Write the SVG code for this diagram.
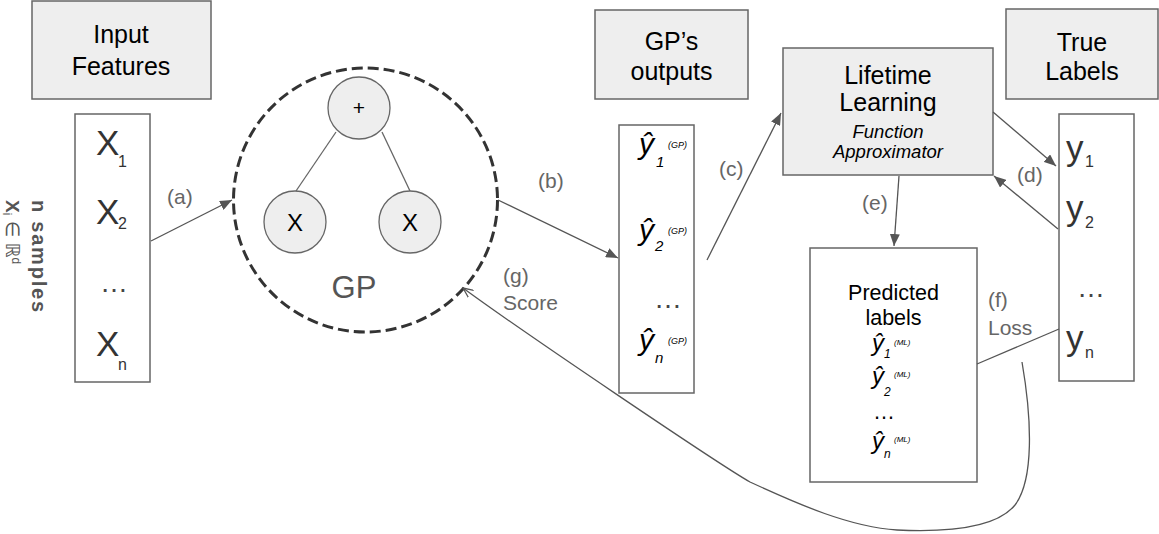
<svg xmlns="http://www.w3.org/2000/svg" width="1159" height="534" viewBox="0 0 1159 534">
<defs>
<marker id="tri" markerUnits="userSpaceOnUse" markerWidth="13" markerHeight="10" refX="12" refY="5" orient="auto">
<path d="M0,0 L12,5 L0,10 z" fill="#555"/>
</marker>
<marker id="open" markerUnits="userSpaceOnUse" markerWidth="12" markerHeight="10" refX="10" refY="5" orient="auto">
<path d="M0,0.5 L10,5 L0,9.5" fill="none" stroke="#555" stroke-width="1.3"/>
</marker>
</defs>
<style>
text{font-family:"Liberation Sans","DejaVu Sans",Arial,sans-serif}
.hdr{fill:#eeeeee;stroke:#666;stroke-width:1.5}
.col{fill:#fff;stroke:#666;stroke-width:1.5}
.ht{font-size:25px;fill:#000;text-anchor:middle}
.big{font-size:35px;fill:#333}
.sub{font-size:16px;fill:#333}
.dots{font-size:28px;fill:#444}
.lbl{font-size:21px;fill:#666}
.conn{stroke:#555;stroke-width:1.3;fill:none}
.tree{stroke:#666;stroke-width:1.3}
.node{fill:#eeeeee;stroke:#666;stroke-width:1.3}
.yh{font-style:italic;fill:#000}
</style>
<rect width="1159" height="534" fill="#fff"/>

<g id="input-features">
<rect class="hdr" x="32" y="1" width="179" height="98"/>
<text class="ht" x="121" y="43">Input</text>
<text class="ht" x="121" y="75">Features</text>
</g>

<g id="x-column">
<rect class="col" x="75" y="114" width="75" height="268"/>
<text class="big" x="96" y="155">X</text><text class="sub" x="118" y="167">1</text>
<text class="big" x="96" y="224">X</text><text class="sub" x="118" y="229">2</text>
<text class="dots" x="100" y="292">…</text>
<text class="big" x="96" y="356">X</text><text class="sub" x="118" y="370">n</text>
</g>

<g id="samples-note">
<text transform="translate(32,200) rotate(90)" font-size="20" font-weight="bold" fill="#555" textLength="112" lengthAdjust="spacing">n samples</text>
<text transform="translate(6,200) rotate(90)" font-size="19" fill="#555"><tspan font-weight="bold">X</tspan><tspan font-size="12" dy="3">i</tspan><tspan dy="-3"> ∈ ℝ</tspan><tspan font-size="12" dy="-6">d</tspan></text>
</g>

<g id="gp">
<circle cx="365.5" cy="200" r="132" fill="none" stroke="#333" stroke-width="3" stroke-dasharray="11,5"/>
<line class="tree" x1="336" y1="132" x2="296" y2="191"/>
<line class="tree" x1="382" y1="132" x2="410" y2="191"/>
<circle class="node" cx="359" cy="108" r="31"/>
<circle class="node" cx="295" cy="222" r="31"/>
<circle class="node" cx="410" cy="222" r="31"/>
<text x="359" y="115" font-size="21" text-anchor="middle" fill="#000">+</text>
<text x="295" y="231" font-size="24" text-anchor="middle" fill="#000">X</text>
<text x="410" y="231" font-size="24" text-anchor="middle" fill="#000">X</text>
<text x="354" y="298" font-size="31" text-anchor="middle" fill="#555">GP</text>
</g>

<g id="gp-outputs-header">
<rect class="hdr" x="595" y="10" width="153" height="89"/>
<text class="ht" x="671.5" y="50">GP’s</text>
<text class="ht" x="671.5" y="80">outputs</text>
</g>

<g id="gp-outputs">
<rect class="col" x="619" y="125" width="75" height="268"/>
<text class="yh" x="639" y="154" font-size="30">ŷ</text><text class="yh" x="656" y="167" font-size="15">1</text><text class="yh" x="668" y="148" font-size="9">(GP)</text>
<text class="yh" x="639" y="240" font-size="30">ŷ</text><text class="yh" x="655" y="251" font-size="15">2</text><text class="yh" x="668" y="234" font-size="9">(GP)</text>
<text class="dots" x="654" y="308">…</text>
<text class="yh" x="639" y="350" font-size="30">ŷ</text><text class="yh" x="655" y="363" font-size="15">n</text><text class="yh" x="668" y="344" font-size="9">(GP)</text>
</g>

<g id="lifetime-learning">
<rect class="hdr" x="783" y="48" width="210" height="127"/>
<text class="ht" x="888" y="84">Lifetime</text>
<text class="ht" x="888" y="111">Learning</text>
<text x="888" y="138" font-size="18.5" font-style="italic" text-anchor="middle" fill="#000">Function</text>
<text x="888" y="158" font-size="18.5" font-style="italic" text-anchor="middle" fill="#000">Approximator</text>
</g>

<g id="true-labels-header">
<rect class="hdr" x="1006" y="9" width="152" height="90"/>
<text class="ht" x="1082" y="51">True</text>
<text class="ht" x="1082" y="80">Labels</text>
</g>

<g id="y-column">
<rect class="col" x="1059" y="114" width="75" height="267"/>
<text class="big" x="1066" y="160">y</text><text class="sub" x="1085" y="167">1</text>
<text class="big" x="1066" y="220">y</text><text class="sub" x="1085" y="228">2</text>
<text class="dots" x="1077" y="297">…</text>
<text class="big" x="1066" y="350">y</text><text class="sub" x="1085" y="358">n</text>
</g>

<g id="predicted-labels">
<rect class="col" x="810" y="248" width="167" height="234"/>
<text x="893.5" y="300" font-size="21.5" text-anchor="middle" fill="#000">Predicted</text>
<text x="893.5" y="325" font-size="21.5" text-anchor="middle" fill="#000">labels</text>
<text class="yh" x="872" y="351" font-size="24">ŷ</text><text class="yh" x="884" y="358" font-size="12">1</text><text class="yh" x="894" y="345" font-size="8">(ML)</text>
<text class="yh" x="872" y="384" font-size="24">ŷ</text><text class="yh" x="884" y="396" font-size="12">2</text><text class="yh" x="894" y="377" font-size="8">(ML)</text>
<text x="873" y="419" font-size="22" fill="#000">…</text>
<text class="yh" x="872" y="449" font-size="24">ŷ</text><text class="yh" x="884" y="458" font-size="12">n</text><text class="yh" x="894" y="442" font-size="8">(ML)</text>
</g>

<g id="connectors">
<line class="conn" x1="151" y1="241" x2="232" y2="200" marker-end="url(#tri)"/>
<line class="conn" x1="498" y1="200" x2="618" y2="258" marker-end="url(#tri)"/>
<line class="conn" x1="707" y1="260" x2="781" y2="113" marker-end="url(#tri)"/>
<line class="conn" x1="993" y1="112" x2="1056" y2="166" marker-end="url(#tri)"/>
<line class="conn" x1="1058" y1="229" x2="994" y2="176" marker-end="url(#tri)"/>
<line class="conn" x1="899" y1="176" x2="894" y2="246" marker-end="url(#tri)"/>
<line class="conn" x1="977" y1="364" x2="1059" y2="329"/>
<path class="conn" d="M1022,362 C1032,420 1034,480 1015,505 C995,530 940,532 897,530 C850,527 800,505 750,482 C720,465 520,330 463,288" marker-end="url(#open)"/>
<text class="lbl" x="167" y="204">(a)</text>
<text class="lbl" x="538" y="188">(b)</text>
<text class="lbl" x="719" y="176">(c)</text>
<text class="lbl" x="1017" y="182">(d)</text>
<text class="lbl" x="862" y="210">(e)</text>
<text class="lbl" x="988" y="307">(f)</text>
<text class="lbl" x="988" y="335">Loss</text>
<text class="lbl" x="503" y="283">(g)</text>
<text class="lbl" x="503" y="310">Score</text>
</g>
</svg>
